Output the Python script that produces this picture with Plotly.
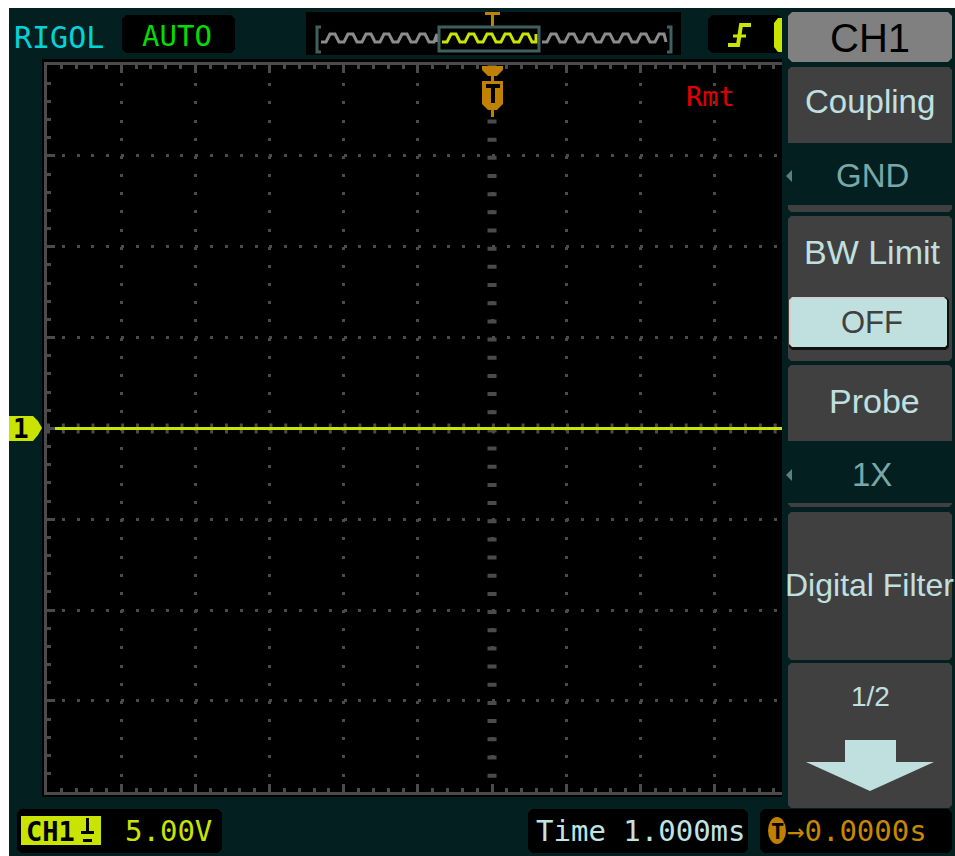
import plotly.graph_objects as go

W, H = 955, 856

# ---------------- data ----------------
time_ms = [-6.0, 6.0]          # sweep across the full 12 divisions
ch1_volts = [0.0, 0.0]         # CH1 coupled to GND -> flat trace
time_per_div_ms = 1.0
volts_per_div = 5.0
x_divs = 12
y_divs = 8

menu_title = "CH1"
menu_items = ["Coupling", "BW Limit", "Probe", "Digital Filter", "1/2"]
menu_values = ["GND", "OFF", "1X"]
status_brand = "RIGOL"
status_mode = "AUTO"
status_remote = "Rmt"
ch1_scale_text = "5.00V"
time_text = "Time 1.000ms"
trig_offset_text = "→0.0000s"

# ---------------- geometry / colours ----------------
GX0, DX = 47.0, 74.17
GY0, DY = 65.0, 90.85
GX1 = GX0 + x_divs * DX
GY1 = GY0 + y_divs * DY

TEAL = "#031f20"
GRID = "#4b4b4b"
YEL = "#c8e400"
ORANGE = "#c08000"
MENU = "#404040"
LIGHT = "#c0e0e0"
VALUE = "#78a8a8"
MONO = "DejaVu Sans Mono"
SANS = "Liberation Sans, Arial, sans-serif"


def X(p):
    return p / W


def Y(p):
    return 1 - p / H


shapes = []
annotations = []


def rect(x0, y0, x1, y1, color, layer="above", chamfer=0, line=None):
    if chamfer:
        c = chamfer
        pts = [(x0 + c, y0), (x1 - c, y0), (x1, y0 + c), (x1, y1 - c),
               (x1 - c, y1), (x0 + c, y1), (x0, y1 - c), (x0, y0 + c)]
        poly(pts, color, layer, line)
    else:
        shapes.append(dict(type="rect", xref="paper", yref="paper",
                           x0=X(x0), x1=X(x1), y0=Y(y0), y1=Y(y1),
                           fillcolor=color, line=line or dict(width=0), layer=layer))


def poly(pts, color, layer="above", line=None):
    d = "M" + " L".join(f"{X(a):.5f},{Y(b):.5f}" for a, b in pts) + " Z"
    shapes.append(dict(type="path", xref="paper", yref="paper", path=d,
                       fillcolor=color, line=line or dict(width=0), layer=layer))


def polyline(pts, color, width, layer="above"):
    d = "M" + " L".join(f"{X(a):.5f},{Y(b):.5f}" for a, b in pts)
    shapes.append(dict(type="path", xref="paper", yref="paper", path=d,
                       line=dict(color=color, width=width), layer=layer))


def text(x, y, s, color, size, family=MONO, anchor="center", bold=False):
    annotations.append(dict(xref="paper", yref="paper", x=X(x), y=Y(y),
                            text=f"<b>{s}</b>" if bold else s, showarrow=False,
                            xanchor=anchor, yanchor="middle",
                            font=dict(color=color, size=size, family=family)))


# ---------------- background ----------------
rect(9, 8, W, H, TEAL, layer="below")
rect(42, 59, 786, 797, "#000000", layer="below")

# center cross of the graticule (drawn through the axes' scales)
shapes.append(dict(type="line", xref="x", yref="y domain", x0=0, x1=0, y0=1, y1=0,
                   line=dict(color=GRID, width=9, dash=f"4px,{DY/5-4:.2f}px"), layer="below"))
shapes.append(dict(type="line", xref="x domain", yref="y", x0=0, x1=1, y0=0, y1=0,
                   line=dict(color=GRID, width=10, dash=f"3px,{DX/5-3:.2f}px"), layer="below"))

# ---------------- top status bar ----------------
text(59, 37, status_brand, "#00d4d8", 30)
rect(122, 15, 235, 53, "#000000", chamfer=4)
text(177, 36, status_mode, "#00dd00", 29)

# memory overview
rect(306, 12, 681, 55, "#000000")
BR = "#406060"
polyline([(321, 27), (317, 27), (317, 52), (321, 52)], BR, 3)
polyline([(667, 27), (671, 27), (671, 52), (667, 52)], BR, 3)


def wave(xa, xb):
    pts = []
    x = xa
    while x < xb:
        pts += [(x, 42), (x + 5, 42), (x + 9, 34), (x + 14, 34), (x + 18, 42)]
        x += 18
    return [(min(a, xb), b) for a, b in pts]


polyline(wave(321, 437), "#8c8c8c", 3)
polyline(wave(542, 666), "#8c8c8c", 3)
polyline(wave(442, 536), YEL, 3)
shapes.append(dict(type="rect", xref="paper", yref="paper", x0=X(439), x1=X(539),
                   y0=Y(27), y1=Y(51), line=dict(color=BR, width=3), layer="above"))
rect(485, 12, 500, 15, ORANGE)
rect(491, 15, 494, 26, ORANGE)

# trigger type box
rect(708, 15, 782, 53, "#000000", chamfer=4)
polyline([(728, 45), (738, 45), (741, 25), (751, 25)], YEL, 4)
polyline([(733, 36), (746, 36)], YEL, 3)
poly([(778, 18), (782, 18), (782, 52), (778, 52), (774, 47), (774, 23)], YEL)

# ---------------- trigger position marker ----------------
poly([(482, 66), (503, 66), (503, 70), (497, 76), (494, 76), (494, 81), (503, 81),
      (503, 104), (497, 110), (494, 110), (494, 117), (491, 117), (491, 110),
      (488, 110), (482, 104), (482, 81), (491, 81), (491, 76), (488, 76), (482, 70)], ORANGE)
rect(486, 84, 500, 88, "#000000")
rect(491, 88, 495, 103, "#000000")
text(710, 97, status_remote, "#e00000", 27)

# channel 1 ground marker
poly([(9, 416), (33, 416), (38, 421), (42, 428), (38, 435), (33, 441), (9, 441)], YEL, layer="above")
text(21, 429, "1", "#000000", 26, bold=True)

# ---------------- right-hand menu ----------------
rect(782, 8, W, H, TEAL)
rect(788, 12, 952, 62, "#808080", chamfer=4)
text(870, 38, menu_title, "#000000", 40, family=SANS)

# Coupling
rect(788, 67, 952, 212, MENU, chamfer=3)
rect(782, 143, W, 205, TEAL)
text(870, 102, menu_items[0], LIGHT, 33, family=SANS)
text(872, 175, menu_values[0], VALUE, 33, family=SANS)
poly([(786, 176), (792, 170), (792, 182)], "#5a8080")

# BW Limit
rect(788, 216, 952, 361, MENU, chamfer=3)
text(872, 252, menu_items[1], LIGHT, 34, family=SANS)
rect(789, 297, 949, 350, "#101010", chamfer=3)
rect(789, 297, 947, 347, "#d0d0d0", chamfer=3)
rect(791, 299, 947, 347, LIGHT, chamfer=2)
text(872, 323, menu_values[1], "#404040", 31, family=SANS)

# Probe
rect(788, 365, 952, 507, MENU, chamfer=3)
rect(782, 441, W, 503, TEAL)
text(874, 401, menu_items[2], LIGHT, 34, family=SANS)
text(872, 474, menu_values[2], VALUE, 33, family=SANS)
poly([(786, 475), (792, 469), (792, 481)], "#5a8080")

# Digital Filter
rect(788, 512, 952, 660, MENU, chamfer=3)
text(869, 585, menu_items[3], LIGHT, 32, family=SANS)

# page 1/2
rect(788, 663, 952, 808, MENU, chamfer=3)
text(870, 696, menu_items[4], LIGHT, 28, family=SANS)
rect(845, 740, 896, 762, LIGHT)
poly([(806, 762), (934, 762), (870, 791)], LIGHT)

# ---------------- bottom status bar ----------------
rect(17, 809, 222, 853, "#000000", chamfer=4)
rect(21, 816, 101, 845, YEL)
text(50, 831, "CH1", "#000000", 27, bold=True)
rect(86, 818, 89, 831, "#000000")
rect(81, 831, 94, 834, "#000000")
rect(83, 839, 92, 842, "#000000")
text(168, 831, ch1_scale_text, YEL, 29)

rect(528, 809, 748, 853, "#000000", chamfer=4)
text(641, 831, time_text, "#c0e4e4", 29)

rect(760, 809, 952, 853, "#000000", chamfer=4)
shapes.append(dict(type="circle", xref="paper", yref="paper", x0=X(768), x1=X(786),
                   y0=Y(817), y1=Y(844), fillcolor=ORANGE, line=dict(width=0), layer="above"))
text(777, 831, "T", "#000000", 22, bold=True)
text(785, 831, trig_offset_text, "#c88800", 29, anchor="left")

# ---------------- figure ----------------
fig = go.Figure()
fig.add_trace(go.Scatter(x=time_ms, y=ch1_volts, mode="lines",
                         line=dict(color=YEL, width=3), hoverinfo="skip", showlegend=False))

half_x = x_divs / 2 * time_per_div_ms
half_y = y_divs / 2 * volts_per_div
axis_common = dict(showticklabels=False, zeroline=False, showline=True, mirror="ticks",
                   linecolor=GRID, linewidth=3, ticks="inside", ticklen=8, tickwidth=3,
                   tickcolor=GRID, showgrid=True, gridcolor=GRID, gridwidth=3, fixedrange=True)
fig.update_xaxes(range=[-half_x, half_x], dtick=time_per_div_ms,
                 domain=[GX0 / W, GX1 / W],
                 griddash=f"3px,{DY/5-3:.2f}px",
                 minor=dict(dtick=time_per_div_ms / 5, ticks="inside", ticklen=4,
                            tickwidth=3, tickcolor=GRID, showgrid=False),
                 **axis_common)
fig.update_yaxes(range=[-half_y, half_y], dtick=volts_per_div,
                 domain=[1 - GY1 / H, 1 - GY0 / H],
                 griddash=f"3px,{DX/5-3:.2f}px",
                 minor=dict(dtick=volts_per_div / 5, ticks="inside", ticklen=4,
                            tickwidth=3, tickcolor=GRID, showgrid=False),
                 **axis_common)

fig.update_layout(width=W, height=H, margin=dict(l=0, r=0, t=0, b=0),
                  paper_bgcolor="#ffffff", plot_bgcolor="rgba(0,0,0,0)",
                  shapes=shapes, annotations=annotations, showlegend=False)

fig.write_html("out.html", config={"displayModeBar": False})
